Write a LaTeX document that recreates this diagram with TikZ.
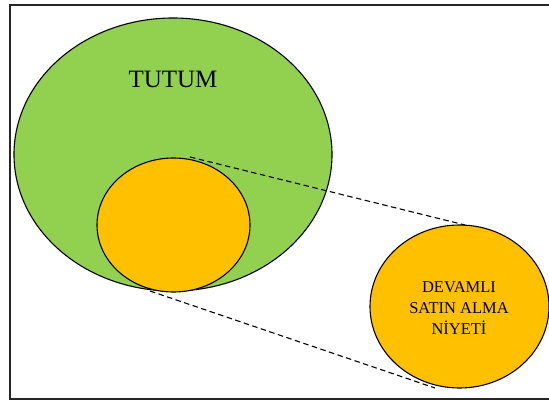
\documentclass[tikz,border=0pt]{standalone}
\usepackage{fontspec}
\setmainfont{Liberation Serif}
\usetikzlibrary{shapes.geometric,calc}
\definecolor{tutumgreen}{HTML}{92D050}
\definecolor{niyetorange}{HTML}{FFC000}
\tikzset{
  blob/.style={ellipse, draw=black, line width=1.1pt, inner sep=0pt, outer sep=0pt},
  zoomline/.style={draw=black, line width=1.1pt, dash pattern=on 5.5pt off 3.5pt},
  frame/.style={draw=black!85, line width=1.5pt}
}
\begin{document}
\begin{tikzpicture}[x=1pt,y=-1pt]
  \useasboundingbox (0,0) rectangle (549,401);
  % outer frame (runs past the right edge)
  \draw[frame] (10,5) rectangle (570,399);
  % attitude ellipse with the inner intention ellipse
  \node[blob, fill=tutumgreen, minimum width=318pt, minimum height=273pt] (tutum) at (173,154.5) {};
  \node[font=\fontsize{25}{30}\selectfont] (tutumlbl) at (173,79) {TUTUM};
  \node[blob, fill=niyetorange, minimum width=153pt, minimum height=134pt] (inner) at (173.5,225) {};
  % enlarged view
  \node[blob, fill=niyetorange, minimum width=179pt, minimum height=163pt] (niyet) at (459.5,306.5) {};
  \node[align=center, font=\fontsize{16.5}{21}\selectfont] (niyetlbl) at (459,308.5)
        {DEVAMLI\\SATIN ALMA\\NİYETİ};
  % ends of the two zoom lines
  \coordinate (innertop) at ($(inner.center)+(16.5,-68)$);
  \coordinate (innerbot) at ($(inner.center)+(-23.5,66)$);
  \coordinate (niyettop) at ($(niyet.center)+(5.5,-81.5)$);
  \coordinate (niyetbot) at ($(niyet.center)+(-24.5,81.5)$);
  \draw[zoomline] (innertop) -- (niyettop);
  \draw[zoomline] (innerbot) -- (niyetbot);
\end{tikzpicture}
\end{document}
